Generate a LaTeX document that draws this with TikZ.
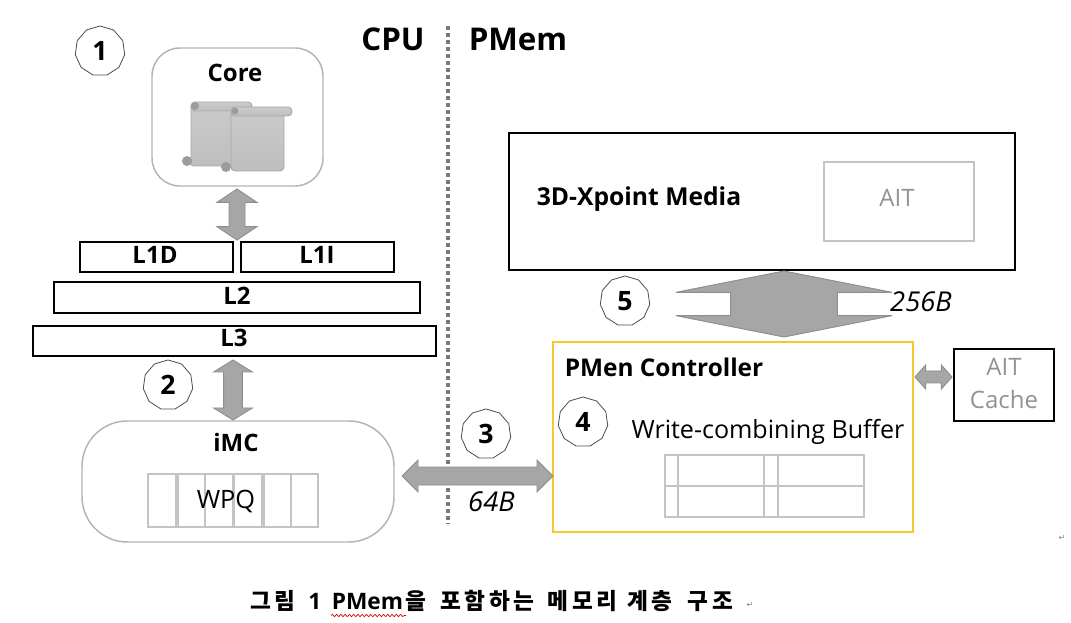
\documentclass[tikz,border=0pt]{standalone}
\usepackage{fontspec}
\setmainfont{Open Sans}
\newfontfamily\cjk[LetterSpace=15]{Noto Sans CJK KR}
\newfontfamily\symb{DejaVu Sans}
\usetikzlibrary{calc,fit,shapes.geometric,decorations.pathmorphing}
\newcommand{\fs}[1]{\fontsize{#1}{#1}\selectfont}
% block double arrow: from, to, half shaft, half wing, head length (in pt)
\newcommand{\blockarrow}[5]{%
  \path[blockstyle] (#1)
    -- ($(#1)!#5!(#2)!#4!90:(#2)$) -- ($(#1)!#5!(#2)!#3!90:(#2)$)
    -- ($(#2)!#5!(#1)!#3!-90:(#1)$) -- ($(#2)!#5!(#1)!#4!-90:(#1)$)
    -- (#2)
    -- ($(#2)!#5!(#1)!#4!90:(#1)$) -- ($(#2)!#5!(#1)!#3!90:(#1)$)
    -- ($(#1)!#5!(#2)!#3!-90:(#2)$) -- ($(#1)!#5!(#2)!#4!-90:(#2)$)
    -- cycle;}
\tikzset{
  x=0.75pt,y=-0.75pt,
  blockstyle/.style={fill=arrowfill,draw=arrowline,line width=0.7pt,line join=miter},
  rbox/.style={draw=softgray,line width=1.1pt,inner sep=0pt,outer sep=0pt},
  cache/.style={draw=black,line width=1.1pt,inner sep=0pt,outer sep=0pt},
  cachetext/.style={font=\bfseries\fs{18},inner sep=0pt},
  cell/.style={draw=cellgray,line width=1pt,inner sep=0pt,outer sep=0pt},
  badge/.style={regular polygon,regular polygon sides=11,draw=black!70,line width=0.6pt,
    fill=white,inner sep=0pt,outer sep=0pt,minimum size=37.5pt,font=\bfseries\fs{20}},
  scroll/.style={top color=scrolltop,bottom color=scrollbot,draw=scrollline,line width=0.7pt},
  curl/.style={fill=scrollcurl,draw=none},
  head/.style={font=\bfseries\fs{23.5},inner sep=0pt},
  graytext/.style={text=gray!85,font=\fs{18},inner sep=0pt},
  size/.style={font=\itshape\fs{20.5},inner sep=0pt},
}
\definecolor{arrowfill}{HTML}{A6A6A6}
\definecolor{arrowline}{HTML}{8E8E8E}
\definecolor{softgray}{HTML}{B4B4B4}
\definecolor{cellgray}{HTML}{C4C4C4}
\definecolor{scrolltop}{HTML}{CBCBCB}
\definecolor{scrollbot}{HTML}{BEBEBE}
\definecolor{scrollline}{HTML}{A8A8A8}
\definecolor{scrollcurl}{HTML}{9C9C9C}
\definecolor{gold}{HTML}{F6C82B}
\begin{document}
\begin{tikzpicture}
\useasboundingbox (0,0) rectangle (1071,623);
\fill[white] (0,0) rectangle (1071,623);

% divider
\coordinate (divtop) at (448,26);
\coordinate (divbot) at (448,524);
\draw[draw=gray!95!black,line width=3pt,dash pattern=on 3.2pt off 2.05pt] (divtop) -- (divbot);
\node[head] (cpu) at (393,39) {CPU};
\node[head] (pmem) at (518,39) {PMem};

% core
\node[rbox,rounded corners=21pt,fit={(152,48)(323,186)}] (core) {};
\node[font=\bfseries\fs{18},inner sep=0pt] (corelabel) at (235,73) {Core};
\path[scroll,rounded corners=2pt] (191,104) rectangle (250,166);
\path[scroll,rounded corners=3pt] (191,102) rectangle (252,111);
\fill[curl] (195,106) circle[radius=4];
\fill[curl] (187,161) circle[radius=5];
\path[scroll,rounded corners=3pt] (231,110) rectangle (284,171);
\path[scroll,rounded corners=3pt] (231,107) rectangle (292,116);
\fill[curl] (235,111) circle[radius=3.5];
\fill[curl] (226,167) circle[radius=5];

% caches
\node[cache,fit={(80,242)(233,272)}] (l1d) {};
\node[cachetext] (l1dlabel) at (155,254.5) {L1D};
\node[cache,fit={(241,242)(394,272)}] (l1i) {};
\node[cachetext] (l1ilabel) at (317,254.5) {L1I};
\node[cache,fit={(54,282)(420,313)}] (l2) {};
\node[cachetext] (l2label) at (237,295.5) {L2};
\node[cache,fit={(33,326)(436,356)}] (l3) {};
\node[cachetext] (l3label) at (234,338) {L3};

% iMC
\node[rbox,rounded corners=34pt,fit={(82,421)(394,542)}] (imc) {};
\node[font=\bfseries\fs{18},inner sep=0pt] (imclabel) at (236,442) {iMC};
\node[cell,fit={(148,474)(176,527)}] (w1) {};
\node[cell,fit={(178,474)(205,527)}] (w2) {};
\node[cell,fit={(205,474)(233,527)}] (w3) {};
\node[cell,fit={(234,474)(262,527)}] (w4) {};
\node[cell,fit={(264,474)(291,527)}] (w5) {};
\node[cell,fit={(291,474)(318,527)}] (w6) {};
\node[font=\fs{19},inner sep=0pt] (wpq) at (226,501) {WPQ};

% media
\node[cache,fit={(509,133)(1015,270)}] (media) {};
\node[font=\bfseries\fs{18.5},inner sep=0pt] (medialabel) at (639,199) {3D-Xpoint Media};
\node[cell,fit={(824,162)(974,241)}] (aitbox) {};
\node[graytext] (ait) at (897,198) {AIT};

% controller
\node[draw=gold,line width=1.2pt,inner sep=0pt,outer sep=0pt,fit={(553,342)(913,532)}] (ctrl) {};
\node[font=\bfseries\fs{18.3},inner sep=0pt,anchor=west] (ctrllabel) at (564.5,367) {PMen Controller};
\node[font=\fs{18.8},inner sep=0pt] (wcb) at (768,431.5) {Write-combining Buffer};
\node[cell,fit={(665,455)(864,517)}] (wtable) {};
\draw[cell] (wtable.west) -- (wtable.east);
\draw[cell] (678,455) -- (678,517);
\draw[cell] (764,455) -- (764,517);
\draw[cell] (778,455) -- (778,517);

% AIT cache
\node[cache,fit={(954,349)(1054,421)}] (aitcache) {};
\node[graytext,align=center,font=\fs{18}] (aitcachelabel) at (1004,383.5) {AIT\\[7pt]Cache};

% arrows
\coordinate (a1t) at (237,189);
\coordinate (a1b) at (237,240);
\coordinate (a2t) at (233,360);
\coordinate (a2b) at (233,420);
\coordinate (a3l) at (402,476);
\coordinate (a3r) at (553,476);
\coordinate (a4l) at (915,377);
\coordinate (a4r) at (952,377);
\coordinate (a5t) at (784,271);
\coordinate (a5b) at (784,337);
\blockarrow{a1t}{a1b}{6pt}{15pt}{10pt}
\blockarrow{a2t}{a2b}{7pt}{14.5pt}{9pt}
\blockarrow{a3l}{a3r}{6.75pt}{12pt}{12pt}
\blockarrow{a4l}{a4r}{4.5pt}{9pt}{8pt}
\blockarrow{a5t}{a5b}{40pt}{81pt}{16pt}

\node[size] (s64) at (491.5,502) {64B};
\node[size] (s256) at (921,302) {256B};

% badges
\node[badge] (b1) at (100,51) {1};
\node[badge] (b2) at (168,385) {2};
\node[badge] (b3) at (486,434) {3};
\node[badge] (b4) at (583,422) {4};
\node[badge] (b5) at (625,301) {5};

% caption
\node[font=\bfseries\fs{17},inner sep=0pt,anchor=west] (caption) at (250,601)
  {{\cjk 그림}\hspace{9.7pt}1\hspace{7.9pt}PMem\hspace{1.5pt}{\cjk 을}\hspace{11pt}{\cjk 포함하는}\hspace{10.2pt}{\cjk 메모리}\hspace{7.8pt}{\cjk 계층}\hspace{11.5pt}{\cjk 구조}};
\coordinate (sqa) at (331,615.5);
\coordinate (sqb) at (406,615.5);
\draw[red!85!black,line width=0.5pt,decorate,decoration={snake,amplitude=0.9pt,segment length=3.2pt}] (sqa) -- (sqb);
\node[text=gray,font=\symb\fs{6},inner sep=0pt] (ret1) at (750,605) {↵};
\node[text=gray,font=\symb\fs{6},inner sep=0pt] (ret2) at (1062,538) {↵};
\end{tikzpicture}
\end{document}
